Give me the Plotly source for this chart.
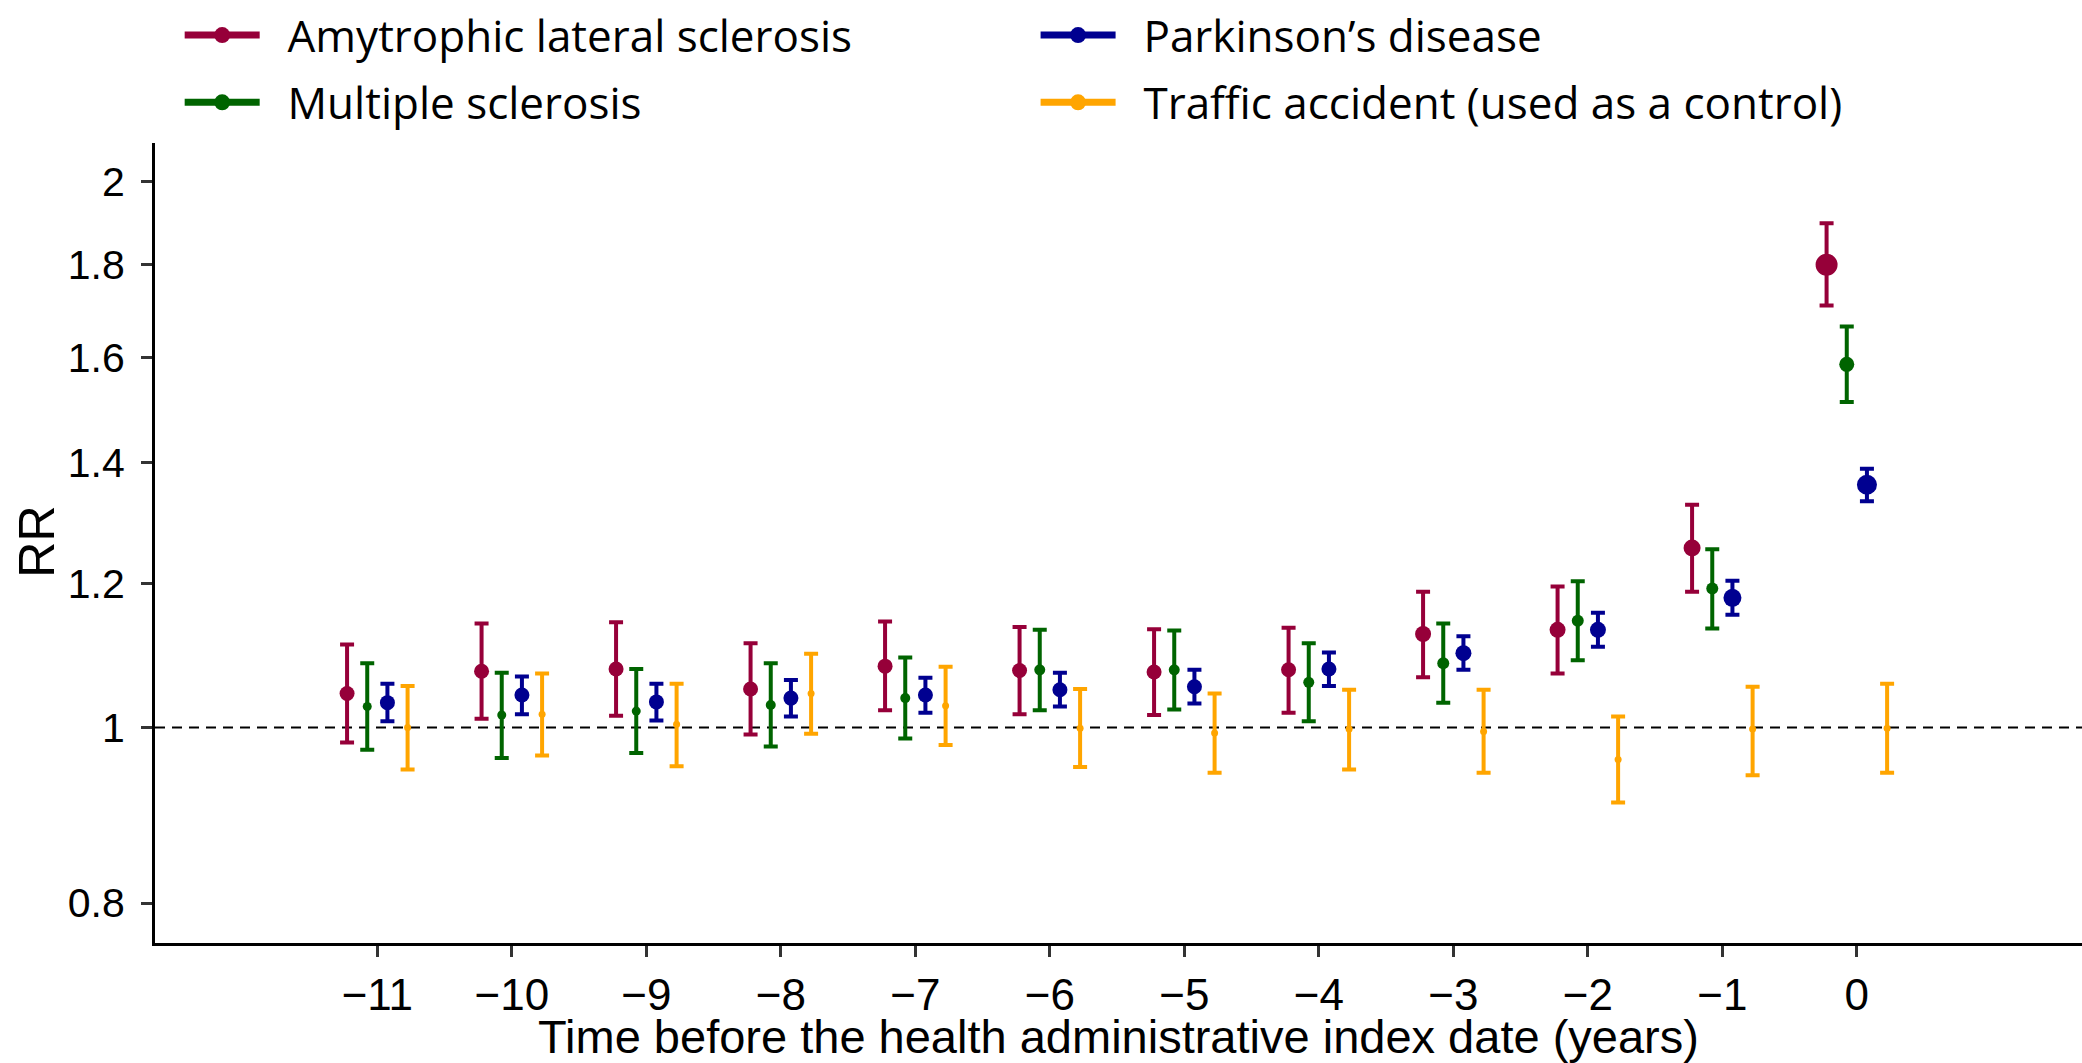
import plotly.graph_objects as go

years = [-11, -10, -9, -8, -7, -6, -5, -4, -3, -2, -1, 0]

als_rr = [1.044, 1.074, 1.077, 1.050, 1.081, 1.075, 1.073, 1.076, 1.126, 1.132, 1.256, 1.800]
als_lo = [0.981, 1.011, 1.015, 0.991, 1.022, 1.017, 1.016, 1.019, 1.066, 1.071, 1.188, 1.709]
als_hi = [1.111, 1.141, 1.143, 1.113, 1.144, 1.136, 1.133, 1.135, 1.188, 1.196, 1.327, 1.897]

ms_rr = [1.027, 1.016, 1.021, 1.029, 1.038, 1.076, 1.076, 1.059, 1.085, 1.145, 1.193, 1.586]
ms_lo = [0.972, 0.962, 0.968, 0.976, 0.986, 1.022, 1.023, 1.008, 1.032, 1.089, 1.134, 1.512]
ms_hi = [1.085, 1.072, 1.077, 1.085, 1.093, 1.132, 1.131, 1.113, 1.141, 1.204, 1.254, 1.664]

pd_rr = [1.032, 1.042, 1.033, 1.038, 1.042, 1.049, 1.053, 1.077, 1.099, 1.132, 1.179, 1.361]
pd_lo = [1.008, 1.017, 1.009, 1.014, 1.019, 1.027, 1.031, 1.054, 1.076, 1.108, 1.154, 1.333]
pd_hi = [1.057, 1.067, 1.057, 1.062, 1.065, 1.072, 1.076, 1.100, 1.123, 1.157, 1.205, 1.389]

tr_rr = [1.000, 1.017, 1.004, 1.044, 1.028, 0.999, 0.993, 0.998, 0.995, 0.960, 0.998, 0.999]
tr_lo = [0.948, 0.965, 0.952, 0.992, 0.978, 0.951, 0.944, 0.948, 0.944, 0.909, 0.941, 0.944]
tr_hi = [1.054, 1.071, 1.057, 1.098, 1.080, 1.050, 1.044, 1.049, 1.049, 1.014, 1.053, 1.057]

series_names = [
    "Amytrophic lateral sclerosis",
    "Multiple sclerosis",
    "Parkinson\u2019s disease",
    "Traffic accident (used as a control)",
]

y_ticks = [0.8, 1, 1.2, 1.4, 1.6, 1.8, 2]
y_ticktext = ["0.8", "1", "1.2", "1.4", "1.6", "1.8", "2"]
x_title = "Time before the health administrative index date (years)"
y_title = "RR"

# styling (not data)
colors = ["#960039", "#006400", "#000090", "#FFA500"]
dodge = [-0.225, -0.075, 0.075, 0.225]
marker_sizes = [
    [15, 15, 15, 15, 15, 15, 15, 15, 16, 16, 17, 22],
    [9, 9, 9, 10, 10, 11, 11, 11, 12, 12, 12, 15],
    [15, 15, 15, 15, 15, 15, 15, 15, 16, 16, 18, 20],
    [7, 7, 7, 7, 7, 7, 7, 7, 7, 7, 7, 7],
]

data = [
    (als_rr, als_lo, als_hi),
    (ms_rr, ms_lo, ms_hi),
    (pd_rr, pd_lo, pd_hi),
    (tr_rr, tr_lo, tr_hi),
]

fig = go.Figure()

for i, (rr, lo, hi) in enumerate(data):
    fig.add_trace(go.Scatter(
        x=[t + dodge[i] for t in years],
        y=rr,
        mode="markers",
        marker=dict(color=colors[i], size=marker_sizes[i], opacity=1, line=dict(width=0)),
        error_y=dict(
            type="data", symmetric=False,
            array=[h - r for h, r in zip(hi, rr)],
            arrayminus=[r - l for r, l in zip(rr, lo)],
            color=colors[i], thickness=4, width=7,
        ),
        showlegend=False,
        name=series_names[i],
    ))

# legend entries (line + dot symbol)
for i in range(4):
    fig.add_trace(go.Scatter(
        x=[None], y=[None],
        mode="lines+markers",
        line=dict(color=colors[i], width=7),
        marker=dict(color=colors[i], size=22, opacity=1),
        name="\u00a0\u00a0" + series_names[i],
        legend="legend" if i in (0, 1) else "legend2",
        legendgroup=f"g{i}",
        showlegend=True,
    ))

legend_font = dict(family="Open Sans, Noto Sans, sans-serif", size=44, color="black")

fig.add_shape(
    type="line", xref="paper", x0=0, x1=1, yref="y", y0=1, y1=1,
    line=dict(color="black", width=2, dash="10px,7px"), layer="below",
)

fig.add_annotation(
    text=y_title, xref="paper", yref="paper",
    x=(37 - 155) / 1927, y=0.5017, xanchor="center", yanchor="middle",
    textangle=-90, showarrow=False,
    font=dict(family="Liberation Sans, Arial, sans-serif", size=50, color="black"),
)

fig.update_layout(
    width=2082, height=1063,
    paper_bgcolor="white", plot_bgcolor="white",
    margin=dict(l=155, r=0, t=143, b=120, autoexpand=False),
    legend=dict(
        xref="container", yref="container",
        x=0.0863, y=1.0155, xanchor="left", yanchor="top",
        font=legend_font, bgcolor="rgba(0,0,0,0)",
        tracegroupgap=7, itemwidth=75,
    ),
    legend2=dict(
        xref="container", yref="container",
        x=0.4974, y=1.0155, xanchor="left", yanchor="top",
        font=legend_font, bgcolor="rgba(0,0,0,0)",
        tracegroupgap=7, itemwidth=75,
    ),
    xaxis=dict(
        range=[-12.653, 1.674],
        tickmode="array", tickvals=years,
        ticks="outside", ticklen=11, tickwidth=3, tickcolor="#333333",
        showline=True, linecolor="black", linewidth=3,
        showgrid=False, zeroline=False,
        tickfont=dict(family="Liberation Sans, Arial, sans-serif", size=44, color="black"),
        title=dict(
            text=x_title,
            font=dict(family="Liberation Sans, Arial, sans-serif", size=47, color="black"),
            standoff=10,
        ),
    ),
    yaxis=dict(
        type="log",
        range=[-0.1189, 0.3224],
        tickmode="array",
        tickvals=y_ticks,
        ticktext=y_ticktext,
        ticks="outside", ticklen=11, tickwidth=3, tickcolor="#333333",
        showline=True, linecolor="black", linewidth=3,
        showgrid=False, zeroline=False,
        ticklabelstandoff=8,
        tickfont=dict(family="Liberation Sans, Arial, sans-serif", size=41, color="black"),
    ),
)

fig.write_html("out.html")
